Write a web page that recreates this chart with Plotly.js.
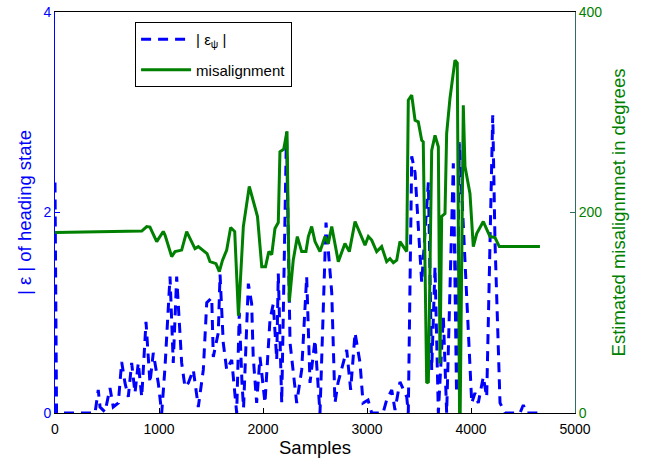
<!DOCTYPE html>
<html>
<head>
<meta charset="utf-8">
<script src="https://cdn.plot.ly/plotly-3.0.1.min.js"></script>
<style>html,body{margin:0;padding:0;background:#fff;}#chart{width:650px;height:460px;}</style>
</head>
<body>
<div id="chart"></div>
<script>
// |eps_psi| error series (left axis)
const errSamples = [0,15,355,385,416,433,481,529,560,609,641,673,705,737,769,801,834,875,913,945,993,1026,1058,1106,1137,1170,1218,1250,1282,1330,1378,1426,1459,1507,1522,1570,1587,1618,1651,1699,1747,1772,1798,1813,1859,1891,1906,1939,1971,2019,2067,2099,2132,2147,2180,2226,2260,2291,2324,2372,2420,2452,2500,2548,2606,2661,2692,2721,2805,2843,2885,2933,2962,3010,3045,3154,3189,3238,3269,3317,3382,3397,3430,3462,3526,3590,3622,3654,3686,3734,3766,3830,3861,3888,3959,4007,4038,4070,4118,4151,4209,4231,4279,4327,4471,4503,4535,4663];
const errValues = [2.3,0,0,0,0.23,0.06,0.01,0.25,0.06,0.1,0.51,0.3,0.16,0.5,0.2,0.5,0.16,0.91,0.3,0.6,0.3,0,0.46,1.36,0.5,1.36,0.5,0.26,0.3,0.43,0.06,0.43,1.1,1.15,0.56,0.8,1.38,0.7,0.43,0.53,0,1.0,0.3,0.05,1.29,1.09,0.56,0.1,0.56,0.1,0.93,1.09,0.53,1.39,0.1,2.8,0.7,0.43,0.1,0.43,1.36,0.3,0.73,0,1.9,1.2,0.1,0.3,0.63,0.23,0.8,0.5,0.1,0.13,0,0,0.13,0.23,0.03,0.31,0.16,0,2.56,2.4,1.3,2.3,0.43,1.46,0,0.96,0,2.49,0.2,2.7,1.06,0.1,0.2,0.1,0.36,0.16,2.97,1.7,0.1,0,0,0.08,0,0];

// misalignment series (right axis, degrees)
const misSamples = [0,625,834,882,913,978,1041,1058,1122,1154,1218,1266,1314,1346,1378,1426,1462,1490,1548,1580,1611,1651,1689,1728,1764,1811,1868,1913,1947,1988,2024,2056,2084,2115,2147,2163,2199,2231,2253,2291,2330,2372,2413,2436,2468,2500,2548,2596,2628,2661,2724,2788,2830,2885,2933,2981,3013,3045,3093,3141,3189,3221,3253,3286,3317,3349,3382,3397,3430,3462,3493,3526,3541,3574,3590,3622,3654,3686,3702,3718,3750,3766,3798,3846,3868,3890,3896,3926,3942,3990,4022,4055,4118,4183,4231,4272,4663];
const misValues = [180,181,181.5,186,185.5,171,181,177.5,156,161,162.5,181,171,164,166,162.5,159,151,149,141,152.5,162.5,185,181,97,186,226,209,196,146,146,161,158,184,190,260.5,263,281,111,152.5,176,161,161,176,186,171,161,176,169,186,151,169,161,191,179,167.5,176,172.5,161,166,151,154,150,152.5,171,166,161,312,317,292,290.5,272,270.5,30,31,262,277,265.5,49.5,196,199,279,314,352,349,0,0,307,246,219,166,179,191,176,175,166,166];

const xTicks = [0,1000,2000,3000,4000,5000];
const leftTicks = [0,2,4];
const rightTicks = [0,200,400];

const FONT = 'Liberation Sans, Arial, sans-serif';

const traces = [
  {
    x: errSamples, y: errValues, type: 'scatter', mode: 'lines',
    name: '| ε<sub>ψ</sub> |', legendgroup: 'a',
    line: {color: '#0000ff', width: 3, dash: '10px,7px'},
    yaxis: 'y'
  },
  {
    x: misSamples, y: misValues, type: 'scatter', mode: 'lines',
    name: 'misalignment', legendgroup: 'b',
    line: {color: '#008000', width: 3},
    yaxis: 'y2'
  }
];

const layout = {
  width: 650, height: 460,
  margin: {l: 55, r: 75, t: 12, b: 47},
  paper_bgcolor: '#fff', plot_bgcolor: '#fff',
  font: {family: FONT, size: 14, color: '#000'},
  showlegend: true,
  legend: {
    x: 0.154, y: 0.975, xanchor: 'left', yanchor: 'top',
    bgcolor: '#fff', bordercolor: '#000', borderwidth: 1,
    font: {family: FONT, size: 15, color: '#000'},
    itemwidth: 50, traceorder: 'grouped', tracegroupgap: 8
  },
  xaxis: {
    range: [0, 5000], tickvals: xTicks, ticktext: xTicks.map(String),
    ticks: 'inside', ticklen: 5, tickcolor: '#000',
    showline: true, linecolor: '#000', linewidth: 1, mirror: true,
    showgrid: false, zeroline: false, ticklabelstandoff: 3,
    tickfont: {family: FONT, size: 14, color: '#000'},
    title: {text: 'Samples', font: {family: FONT, size: 18.5, color: '#000'}, standoff: 5}
  },
  yaxis: {
    range: [0, 4], tickvals: leftTicks, ticktext: leftTicks.map(String),
    ticks: 'inside', ticklen: 5, tickcolor: '#0000ff',
    showline: true, linecolor: '#0000ff', linewidth: 1,
    showgrid: false, zeroline: false,
    tickfont: {family: FONT, size: 14, color: '#0000ff'},
    title: {text: '| ε | of heading state', font: {family: FONT, size: 18.5, color: '#0000ff'}, standoff: 6}
  },
  yaxis2: {
    range: [0, 400], tickvals: rightTicks, ticktext: rightTicks.map(String),
    overlaying: 'y', side: 'right',
    ticks: 'inside', ticklen: 5, tickcolor: '#2f6f5f',
    showline: true, linecolor: '#2f6f5f', linewidth: 1,
    showgrid: false, zeroline: false,
    tickfont: {family: FONT, size: 14, color: '#008000'},
    title: {text: 'Estimated misalignmnet in degrees', font: {family: FONT, size: 18.5, color: '#008000'}, standoff: 10}
  }
};

Plotly.newPlot('chart', traces, layout, {displayModeBar: false, staticPlot: true});
</script>
</body>
</html>
